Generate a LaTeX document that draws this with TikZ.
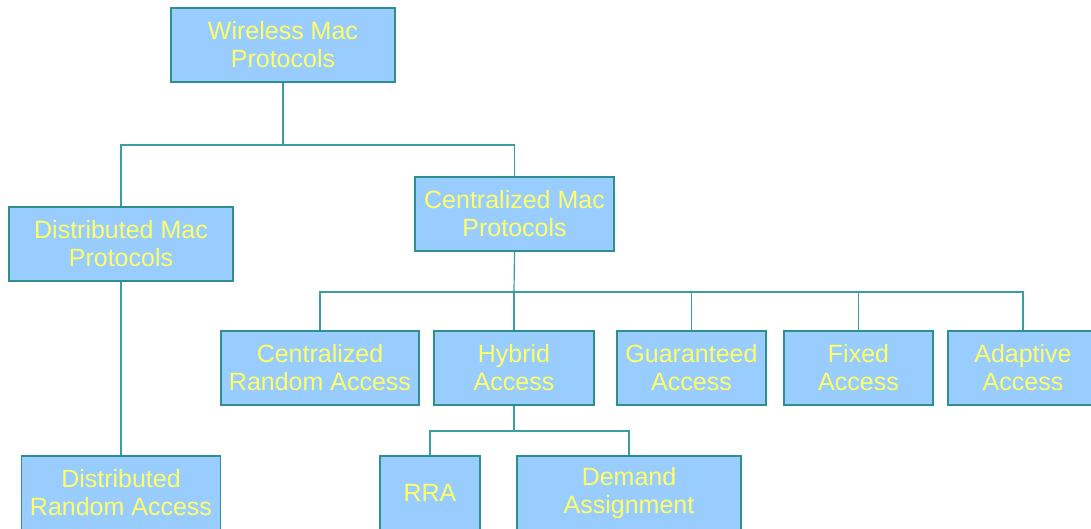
\documentclass[tikz,border=0pt]{standalone}
\usepackage{fontspec}
\setmainfont{Liberation Sans}
\definecolor{boxfill}{HTML}{99CCFF}
\definecolor{boxline}{HTML}{2E8F8F}
\definecolor{wire}{HTML}{3A9E9E}
\definecolor{label}{HTML}{FFFF66}
\tikzset{
  proto/.style={draw=boxline, fill=boxfill, line width=1.2pt, text=label,
    font=\fontsize{25}{28}\selectfont, align=center, inner sep=0pt,
    minimum height=74pt},
  link/.style={draw=wire, line width=1.2pt}
}
\begin{document}
\begin{tikzpicture}[x=1pt, y=-1pt]
\useasboundingbox (0,0) rectangle (1091,528);
\clip (0,0) rectangle (1091,528);
% tree levels
\node[proto, minimum width=224pt] (wm) at (283,45) {Wireless Mac\\Protocols};
\node[proto, minimum width=224pt] (dm) at (121,244) {Distributed Mac\\Protocols};
\node[proto, minimum width=199pt] (cm) at (514.5,214) {Centralized Mac\\Protocols};
\node[proto, minimum width=198pt] (cra) at (320,368) {Centralized\\Random Access};
\node[proto, minimum width=160pt] (hy) at (514,368) {Hybrid\\Access};
\node[proto, minimum width=149pt] (ga) at (691.5,368) {Guaranteed\\Access};
\node[proto, minimum width=149pt] (fa) at (858.5,368) {Fixed\\Access};
\node[proto, minimum width=150pt] (aa) at (1023,368) {Adaptive\\Access};
\node[proto, minimum width=199pt] (dra) at (121,493) {Distributed\\Random Access};
\node[proto, minimum width=100pt] (rra) at (430,493) {RRA};
\node[proto, minimum width=224pt] (da) at (629,493) {Demand\\Assignment};
% junction points
\coordinate (j1) at (283,145);
\coordinate (j2) at (514,292);
\coordinate (j3) at (514,431);
% connectors
\draw[link] (wm.south) -- (j1);
\draw[link] (dm.north) |- (j1) -| (cm.north);
\draw[link] (dm.south) -- (dra.north);
\draw[link] (cm.south) -- (j2);
\draw[link] (cra.north) |- (j2) -| (aa.north);
\draw[link] (hy.north) -- (hy.north |- j2);
\draw[link] (ga.north) -- (ga.north |- j2);
\draw[link] (fa.north) -- (fa.north |- j2);
\draw[link] (hy.south) -- (j3);
\draw[link] (rra.north) |- (j3) -| (da.north);
\end{tikzpicture}
\end{document}
